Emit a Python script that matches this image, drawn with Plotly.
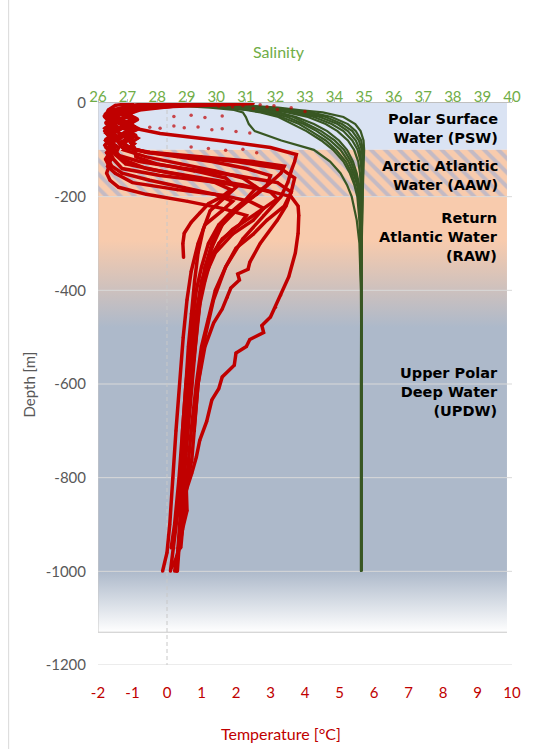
import plotly.graph_objects as go

# ---------------- axes ----------------
T_RANGE = [-2, 10]
S_RANGE = [26, 40]
D_RANGE = [-1200, 0]
T_TICKS = list(range(-2, 11))
S_TICKS = list(range(26, 41))
D_TICKS = list(range(-1200, 1, 200))
T_LABELS = [str(v) for v in T_TICKS]
S_LABELS = [str(v) for v in S_TICKS]
D_LABELS = [str(v) for v in D_TICKS]

# ---------------- water masses ----------------
MASS_NAMES = ["Polar Surface<br>Water (PSW)", "Arctic Atlantic<br>Water (AAW)",
              "Return<br>Atlantic Water<br>(RAW)", "Upper Polar<br>Deep Water<br>(UPDW)"]
MASS_LABEL_DEPTH = [-54, -154, -286, -617]
PSW_DEPTH = [0, -100]
AAW_DEPTH = [-100, -200]
DEEP_DEPTH = [-200, -1130]

# ---------------- salinity profiles ----------------
SAL_DEPTH = [-1, -5, -10, -15, -20, -30, -45, -60, -80, -100, -125, -150, -175, -200,
             -250, -300, -400, -500, -600, -800, -1000]
SAL_1 = [29.8, 31.0, 32.1, 32.8, 33.6, 34.3, 34.7, 34.88, 34.98, 35.0, 34.98, 34.97, 34.96, 34.95, 34.93, 34.92, 34.9, 34.89, 34.89, 34.89, 34.89]
SAL_2 = [29.5, 30.8, 31.8, 32.5, 33.2, 33.9, 34.45, 34.72, 34.9, 34.95, 34.95, 34.94, 34.93, 34.92, 34.91, 34.9, 34.9, 34.9, 34.9, 34.9, 34.9]
SAL_3 = [29.0, 30.4, 31.5, 32.2, 32.8, 33.5, 34.1, 34.45, 34.72, 34.85, 34.9, 34.92, 34.92, 34.91, 34.89, 34.88, 34.9, 34.9, 34.9, 34.9, 34.9]
SAL_4 = [28.6, 30.0, 31.2, 31.9, 32.4, 33.1, 33.7, 34.1, 34.45, 34.66, 34.8, 34.86, 34.89, 34.9, 34.92, 34.91, 34.9, 34.9, 34.9, 34.9, 34.9]
SAL_5 = [28.3, 29.6, 30.8, 31.6, 32.1, 32.7, 33.3, 33.75, 34.15, 34.42, 34.62, 34.75, 34.83, 34.87, 34.88, 34.89, 34.9, 34.9, 34.9, 34.9, 34.9]
SAL_6 = [28.0, 29.2, 30.5, 31.3, 31.8, 32.4, 32.95, 33.4, 33.85, 34.2, 34.47, 34.64, 34.76, 34.83, 34.87, 34.89, 34.9, 34.9, 34.9, 34.9, 34.9]
SAL_7 = [27.6, 28.8, 30.2, 31.0, 31.5, 32.1, 32.6, 33.05, 33.55, 33.95, 34.3, 34.52, 34.67, 34.77, 34.84, 34.88, 34.9, 34.9, 34.9, 34.9, 34.9]
SAL_8 = [27.3, 28.5, 29.8, 30.6, 30.9, 31.0, 31.1, 31.3, 32.2, 33.3, 33.85, 34.2, 34.42, 34.58, 34.75, 34.84, 34.89, 34.9, 34.9, 34.9, 34.9]
SAL_9 = [27.8, 29.0, 30.3, 31.1, 31.6, 32.2, 32.8, 33.2, 33.7, 34.05, 34.38, 34.58, 34.7, 34.8, 34.86, 34.89, 34.9, 34.9, 34.9, 34.9, 34.9]
SAL_10 = [28.8, 30.2, 31.4, 32.1, 32.6, 33.3, 33.9, 34.3, 34.6, 34.78, 34.88, 34.93, 34.94, 34.94, 34.93, 34.91, 34.9, 34.9, 34.9, 34.9, 34.9]
SAL_11 = [28.1, 29.4, 30.6, 31.5, 32.0, 32.6, 33.1, 33.55, 34.0, 34.32, 34.55, 34.7, 34.8, 34.86, 34.9, 34.91, 34.9, 34.9, 34.9, 34.9, 34.9]
SAL_12 = [29.2, 30.6, 31.7, 32.4, 33.0, 33.7, 34.25, 34.6, 34.82, 34.92, 34.96, 34.96, 34.95, 34.94, 34.92, 34.9, 34.9, 34.9, 34.9, 34.9, 34.9]
SAL_PROFILES = [SAL_1, SAL_2, SAL_3, SAL_4, SAL_5, SAL_6, SAL_7, SAL_8, SAL_9, SAL_10, SAL_11, SAL_12]

# ---------------- temperature profiles ----------------
T1_D = [-1, -6, -15, -22, -30, -38, -46, -54, -62, -70, -78, -86, -94, -102, -120, -140, -155, -170, -185, -200, -215, -235, -255, -278, -300, -330]
T1_T = [1.2, -0.6, -1.45, -1.68, -1.5, -1.7, -1.48, -1.66, -1.5, -1.7, -1.52, -1.68, -1.55, -1.5, -1.3, -0.6, 0.5, 1.4, 1.85, 1.6, 1.2, 0.94, 0.7, 0.5, 0.46, 0.48]
T2_D = [-1, -6, -15, -24, -33, -42, -51, -60, -69, -78, -87, -96, -105, -120, -135, -150, -165, -180, -195, -210, -230, -260, -300, -360, -420, -500, -600, -700, -800, -900, -960, -1000]
T2_T = [0.2, -1.0, -1.55, -1.8, -1.55, -1.78, -1.52, -1.8, -1.58, -1.78, -1.55, -1.75, -1.6, -1.72, -1.6, -1.3, -0.5, 0.5, 1.4, 1.9, 1.6, 1.1, 0.9, 0.7, 0.58, 0.47, 0.36, 0.26, 0.17, 0.08, 0.0, -0.13]
T3_D = [-1, -5, -12, -20, -28, -36, -44, -52, -60, -68, -76, -84, -92, -100, -115, -130, -145, -160, -180, -205, -230, -260, -300, -350, -400, -460, -530, -600, -700, -800, -860]
T3_T = [0.9, -0.5, -1.1, -1.4, -1.05, -1.38, -1.0, -1.35, -1.05, -1.4, -1.1, -1.38, -1.15, -1.25, -0.6, 0.4, 1.4, 2.2, 2.6, 2.3, 1.9, 1.5, 1.2, 1.0, 0.85, 0.75, 0.65, 0.55, 0.45, 0.4, 0.38]
T4_D = [-1, -6, -15, -24, -33, -42, -51, -60, -69, -78, -87, -96, -105, -115, -125, -140, -155, -175, -200, -230, -260, -300, -350, -410, -480, -550, -650, -750, -850, -950, -1000]
T4_T = [1.5, 0.3, -0.8, -1.15, -0.9, -1.2, -0.92, -1.18, -0.9, -1.15, -0.95, -1.1, -0.6, 0.3, 1.3, 2.3, 3.0, 2.9, 2.5, 2.0, 1.6, 1.35, 1.1, 0.95, 0.8, 0.7, 0.6, 0.5, 0.42, 0.32, 0.28]
T5_D = [-1, -5, -15, -25, -35, -45, -55, -65, -75, -85, -95, -110, -130, -145, -160, -175, -190, -205, -225, -245, -270, -300, -340, -380, -430, -500, -580, -680, -780, -880, -960, -1000]
T5_T = [2.0, 0.5, -1.2, -1.55, -1.3, -1.6, -1.32, -1.58, -1.35, -1.6, -1.4, -1.5, -1.2, -0.2, 1.0, 2.2, 3.0, 3.2, 2.8, 2.4, 1.9, 1.5, 1.25, 1.1, 0.95, 0.85, 0.72, 0.6, 0.5, 0.42, 0.33, 0.3]
T6_D = [-1, -5, -15, -25, -35, -45, -55, -65, -75, -85, -95, -110, -125, -140, -155, -170, -190, -220, -250, -280, -310, -350, -400, -460, -520, -600, -700, -800, -900, -950]
T6_T = [0.5, -0.8, -1.5, -1.75, -1.52, -1.72, -1.5, -1.75, -1.55, -1.72, -1.6, -1.5, -0.8, 0.5, 2.0, 3.2, 3.6, 3.4, 2.9, 2.5, 2.0, 1.7, 1.4, 1.2, 1.0, 0.85, 0.7, 0.58, 0.45, 0.4]
T7_D = [-1, -5, -15, -25, -35, -45, -55, -65, -75, -85, -95, -105, -115, -125, -140, -160, -190, -220, -250, -300, -340, -355, -365, -378, -395, -415, -440, -470, -520, -600, -700, -760, -800, -880, -950, -1000]
T7_T = [1.0, -0.2, -1.0, -1.28, -1.02, -1.3, -1.05, -1.28, -1.0, -1.25, -1.1, -0.6, 0.6, 2.0, 3.3, 3.7, 3.6, 3.45, 3.2, 2.7, 2.4, 2.35, 2.05, 2.1, 1.85, 1.75, 1.6, 1.35, 1.1, 0.9, 0.8, 0.72, 0.62, 0.45, 0.35, 0.22]
T8_D = [-1, -5, -15, -25, -35, -45, -55, -65, -75, -85, -95, -105, -120, -140, -155, -170, -185, -200, -220, -240, -278, -320, -371, -410, -436, -457, -475, -490, -505, -520, -534, -560, -585, -610, -634, -680, -720, -756, -790, -826, -870, -910, -948, -975, -993]
T8_T = [1.8, 0.2, -1.3, -1.65, -1.42, -1.7, -1.45, -1.68, -1.42, -1.7, -1.5, -1.65, -1.55, -1.3, -0.2, 1.5, 2.8, 3.6, 3.8, 3.82, 3.8, 3.72, 3.53, 3.3, 3.15, 3.0, 2.75, 2.8, 2.4, 2.3, 2.0, 1.95, 1.6, 1.5, 1.3, 1.15, 0.95, 0.85, 0.72, 0.56, 0.58, 0.45, 0.36, 0.25, 0.13]
T9_D = [-1, -5, -15, -28, -41, -54, -67, -80, -93, -106, -120, -135, -150, -170, -185, -197, -210, -225, -250, -280, -320, -370, -430, -500, -580, -660, -750, -850, -950, -1000]
T9_T = [0.3, -1.0, -1.55, -1.8, -1.58, -1.8, -1.6, -1.78, -1.6, -1.75, -1.62, -1.72, -1.5, -1.0, 0.3, 1.6, 2.4, 2.8, 2.5, 1.9, 1.4, 1.1, 0.9, 0.75, 0.65, 0.55, 0.45, 0.35, 0.2, 0.1]
T10_D = [-1, -4, -10, -20, -30, -40, -50, -60, -70, -80, -95, -105, -115, -125, -135, -150, -170, -195, -215, -240, -270, -300, -340, -400, -470, -550, -650, -750, -850, -950, -1000]
T10_T = [2.5, 1.2, -0.8, -1.45, -1.2, -1.5, -1.22, -1.48, -1.25, -1.45, -1.3, -0.5, 1.0, 2.5, 3.4, 3.3, 3.0, 2.6, 2.2, 1.8, 1.5, 1.3, 1.15, 1.0, 0.88, 0.78, 0.66, 0.55, 0.45, 0.32, 0.27]
T11_D = [-1, -5, -15, -25, -35, -45, -55, -65, -75, -85, -95, -115, -130, -145, -160, -180, -200, -230, -270, -320, -380, -450, -520, -600, -700, -800, -900, -950]
T11_T = [-0.5, -0.8, -0.9, -1.1, -0.85, -1.08, -0.82, -1.1, -0.85, -1.05, -0.95, -0.9, -0.3, 0.8, 1.7, 2.0, 1.7, 1.25, 1.05, 0.9, 0.8, 0.7, 0.62, 0.55, 0.45, 0.35, 0.22, 0.12]
T12_D = [-1, -5, -15, -30, -50, -65, -80, -95, -110, -125, -145, -170, -200, -240, -290, -350, -420, -500, -600, -700]
T12_T = [1.0, -0.3, -1.3, -1.45, -1.2, -0.2, 1.5, 3.0, 3.75, 3.7, 3.6, 3.5, 3.3, 2.8, 2.2, 1.7, 1.35, 1.1, 0.9, 0.78]
T13_D = [-1, -5, -15, -30, -45, -60, -75, -90, -105, -120, -135, -150, -165, -180, -195, -210, -225, -240, -260, -290, -330, -380, -450, -530, -620]
T13_T = [-1.0, -1.5, -1.7, -1.8, -1.62, -1.8, -1.65, -1.8, -1.65, -1.78, -1.68, -1.75, -1.65, -1.4, -0.6, 0.6, 1.6, 2.3, 2.1, 1.6, 1.25, 1.0, 0.85, 0.75, 0.7]
TEMP_DEPTHS = [T1_D, T2_D, T3_D, T4_D, T5_D, T6_D, T7_D, T8_D, T9_D, T10_D, T11_D, T12_D, T13_D]
TEMP_VALUES = [T1_T, T2_T, T3_T, T4_T, T5_T, T6_T, T7_T, T8_T, T9_T, T10_T, T11_T, T12_T, T13_T]

# sparse near-surface temperature samples
DOT_T = [-1.5, -1.3, -1.1, -0.9, -0.7, -0.5, -0.3, -0.1, 0.1, 0.3, 0.5, 0.7, 0.9, 1.1, 1.3, 1.5, 1.7, 1.9,
         2.2, 2.5, 2.9, 3.2, 3.6, 4.0, 2.7, 3.1,
         -0.9, -0.5, -0.2, 0.2, 0.5, 0.9, 1.3, 1.6, 2.0, 2.4,
         0.2, 0.7, 1.1, 1.6,
         0.7, 1.2, 1.7, 2.2, 2.6]
DOT_D = [-6, -4, -3, -5, -3, -4, -3, -5, -4, -3, -5, -4, -6, -4, -5, -7, -5, -8,
         -6, -12, -8, -14, -10, -18, -4, -6,
         -57, -52, -54, -49, -53, -51, -57, -55, -61, -64,
         -29, -26, -31, -28,
         -94, -97, -101, -99, -106]

RED = "#C00000"
GREEN = "#385723"
SAL_GREEN = "#70AD47"
GRAY_TXT = "#595959"
BG_RIGHT = 39.83  # right edge of the background picture (salinity units)

fig = go.Figure()

# ---- background bands (on the salinity x-axis, drawn first) ----
def band(d_top, d_bot):
    return [S_RANGE[0], BG_RIGHT, BG_RIGHT, S_RANGE[0], S_RANGE[0]], [d_top, d_top, d_bot, d_bot, d_top]

bx, by = band(*PSW_DEPTH)
fig.add_trace(go.Scatter(x=bx, y=by, mode="lines", fill="toself", fillcolor="#DAE3F3",
                         line=dict(width=0), hoverinfo="skip"))
bx, by = band(*AAW_DEPTH)
fig.add_trace(go.Scatter(x=bx, y=by, mode="lines", fill="toself", fillcolor="#F8CBAD",
                         fillpattern=dict(shape="\\", bgcolor="#F8CBAD", fgcolor="#8FAADC",
                                          size=10, solidity=0.4),
                         line=dict(width=0), hoverinfo="skip"))
bx, by = band(*DEEP_DEPTH)
fig.add_trace(go.Scatter(x=bx, y=by, mode="lines", fill="toself",
                         fillgradient=dict(type="vertical",
                                           colorscale=[[0, "#F8CBAD"], [0.1, "#F8CBAD"], [0.3, "#ADB9CA"],
                                                       [0.86, "#ADB9CA"], [1, "#FFFFFF"]],
                                           start=DEEP_DEPTH[0], stop=DEEP_DEPTH[1]),
                         line=dict(width=0), hoverinfo="skip"))
# picture border (left + bottom)
fig.add_trace(go.Scatter(x=[S_RANGE[0], S_RANGE[0], BG_RIGHT], y=[0, DEEP_DEPTH[1], DEEP_DEPTH[1]],
                         mode="lines", line=dict(color="#C8C8C8", width=1), hoverinfo="skip"))

# ---- gridlines ----
gx, gy = [], []
for d in D_TICKS:
    if d == 0:
        continue
    gx += [S_RANGE[0], S_RANGE[1], None]
    gy += [d, d, None]
fig.add_trace(go.Scatter(x=gx, y=gy, mode="lines", line=dict(color="#D9D9D9", width=1), hoverinfo="skip"))

# ---- salinity profiles ----
for s in SAL_PROFILES:
    fig.add_trace(go.Scatter(x=s, y=SAL_DEPTH, mode="lines", line=dict(color=GREEN, width=2.2),
                             hoverinfo="skip"))

# ---- temperature axis traces ----
fig.add_trace(go.Scatter(x=[0, 0], y=[0, D_RANGE[0]], xaxis="x2", mode="lines",
                         line=dict(color="#C8C8C8", width=1, dash="4px,3px"), hoverinfo="skip"))
for d, t in zip(TEMP_DEPTHS, TEMP_VALUES):
    fig.add_trace(go.Scatter(x=t, y=d, xaxis="x2", mode="lines+markers",
                             line=dict(color=RED, width=3.5),
                             marker=dict(color=RED, size=3), hoverinfo="skip"))
fig.add_trace(go.Scatter(x=DOT_T, y=DOT_D, xaxis="x2", mode="markers",
                         marker=dict(color=RED, size=3.5, opacity=0.7), hoverinfo="skip"))

FONT = "Lato"
FS = 15
fig.update_layout(
    width=533, height=749,
    margin=dict(l=98, r=18, t=103, b=84),
    paper_bgcolor="white", plot_bgcolor="white",
    showlegend=False,
    xaxis=dict(range=S_RANGE, side="top", tickvals=S_TICKS, ticktext=S_LABELS, anchor="y",
               tickfont=dict(family=FONT, size=FS, color=SAL_GREEN),
               showline=True, linecolor="#BFBFBF", linewidth=1,
               ticks="outside", ticklen=3, tickcolor="#BFBFBF",
               ticklabelstandoff=-9,
               showgrid=False, zeroline=False, fixedrange=True),
    xaxis2=dict(range=T_RANGE, overlaying="x", side="bottom", anchor="y",
                tickvals=T_TICKS, ticktext=T_LABELS,
                tickfont=dict(family=FONT, size=FS, color=RED),
                showline=False, ticks="", showgrid=False, zeroline=False,
                ticklabelstandoff=17),
    yaxis=dict(range=D_RANGE, tickvals=D_TICKS, ticktext=D_LABELS,
               tickfont=dict(family=FONT, size=FS, color=GRAY_TXT),
               showline=False, ticks="", showgrid=False, zeroline=False,
               ticklabelstandoff=11),
)

ann = []
for name, dep in zip(MASS_NAMES, MASS_LABEL_DEPTH):
    ann.append(dict(text="<b>" + name + "</b>", xref="paper", yref="y", x=(503 - 98) / 417, y=dep,
                    xanchor="right", yanchor="middle", align="right", showarrow=False,
                    font=dict(family="DejaVu Sans", size=14.5, color="black")))
ann.append(dict(text="Salinity", xref="paper", yref="paper", x=(280 - 98) / 417, y=1 + (103 - 52) / 562,
                xanchor="center", yanchor="middle", showarrow=False,
                font=dict(family=FONT, size=16, color=SAL_GREEN)))
ann.append(dict(text="Temperature [°C]", xref="paper", yref="paper", x=(282 - 98) / 417, y=-(733 - 665) / 562,
                xanchor="center", yanchor="middle", showarrow=False,
                font=dict(family=FONT, size=16, color=RED)))
ann.append(dict(text="Depth [m]", xref="paper", yref="paper", x=(28 - 98) / 417, y=(665 - 385) / 562,
                xanchor="center", yanchor="middle", showarrow=False, textangle=-90,
                font=dict(family=FONT, size=15, color=GRAY_TXT)))
fig.update_layout(annotations=ann)

# outer chart border on the left
fig.add_shape(type="line", xref="paper", yref="paper", x0=(8 - 98) / 417, x1=(8 - 98) / 417,
              y0=-(749 - 665) / 562, y1=1 + 103 / 562, line=dict(color="#D9D9D9", width=1))

fig.write_html("out.html")
